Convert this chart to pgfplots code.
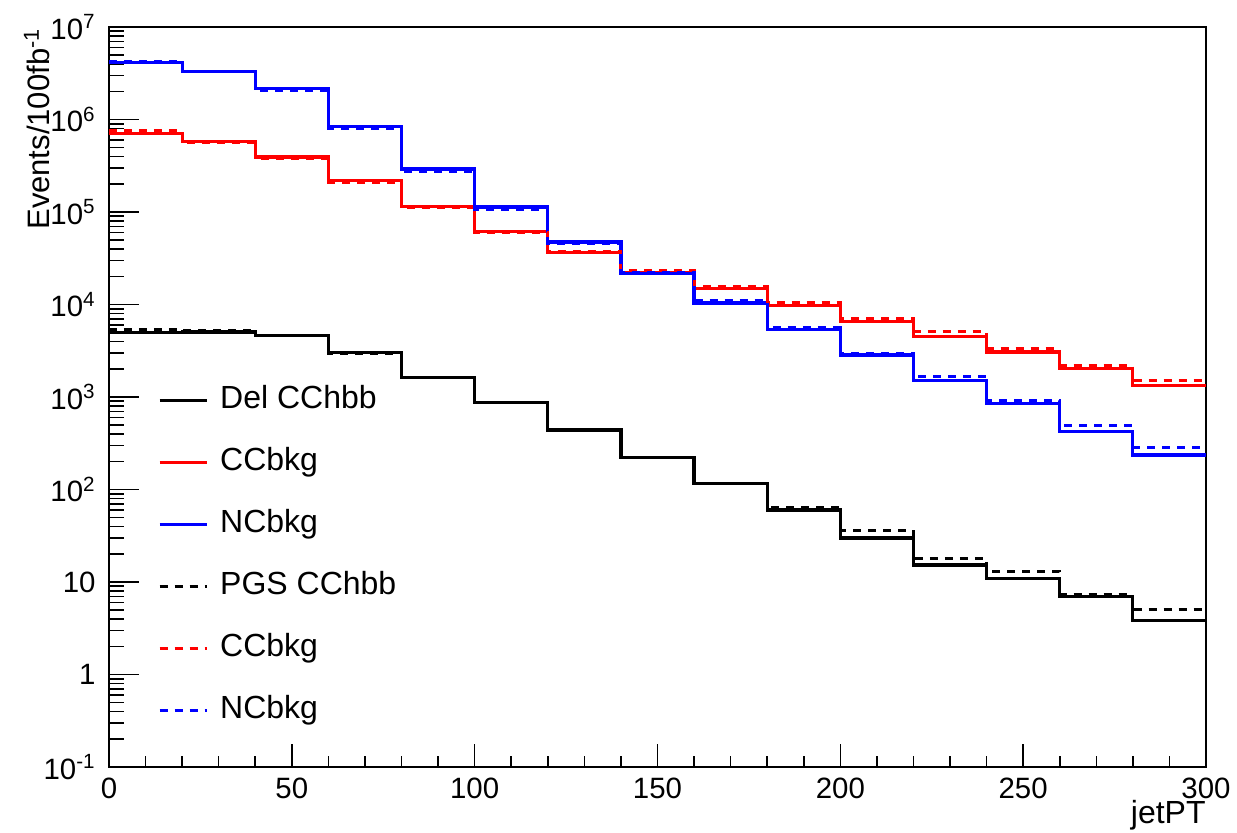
\documentclass[border=0pt]{standalone}
\usepackage{fontspec}
\setmainfont{Liberation Sans}
\usepackage{pgfplots}
\usepackage{pgfplotstable}
\pgfplotsset{compat=1.18}

\pgfplotstableread{
x   delsig  ccsolid  ncsolid  pgssig  ccdash  ncdash
0   4940    700000   4100000  5370    760000  4270000
20  5050    575000   3330000  5300    570000   3300000
40  4660    393000   2180000  4600    380000   2060000
60  3000    220000   840000   2950    210000   790000
80  1630    115000   292000   1620    112000   277000
100 880     61000    113000   870     60000    107000
120 440     36400    47400    440     37000    46000
140 221     22300    21800    221     23400    22000
160 115     14900    10400    115     15800    11000
180 60      9660     5400     64.7    10400    5650
200 29.9    6550     2840     36.5    7060     2930
220 15.3    4550     1500     17.9    5060     1650
240 11.0    3070     853      13.1    3320     912
260 6.95    2020     421      7.25    2170     489
280 3.86    1330     236      5.0     1490     283
300 3.86    1330     236      5.0     1490     283
}\datatable

\begin{document}
\begin{tikzpicture}
\useasboundingbox (-54.5pt,-32.5pt) rectangle (564pt,383.5pt);
\begin{axis}[
  at={(0,0)}, anchor=south west,
  scale only axis, width=548.5pt, height=370pt,
  xmin=0, xmax=300, ymode=log, ymin=0.1, ymax=1e7,
  xtick={0,50,100,150,200,250,300},
  xticklabels={0,50,100,150,200,250,300},
  minor x tick num=4,
  ytick={0.1,1,10,100,1000,10000,100000,1000000,10000000},
  yticklabels={10\textsuperscript{-1},1,10,10\textsuperscript{2},10\textsuperscript{3},10\textsuperscript{4},10\textsuperscript{5},10\textsuperscript{6},10\textsuperscript{7}},
  minor ytick={0.2,0.3,0.4,0.5,0.6,0.7,0.8,0.9,
    2,3,4,5,6,7,8,9,20,30,40,50,60,70,80,90,
    200,300,400,500,600,700,800,900,
    2000,3000,4000,5000,6000,7000,8000,9000,
    20000,30000,40000,50000,60000,70000,80000,90000,
    200000,300000,400000,500000,600000,700000,800000,900000,
    2000000,3000000,4000000,5000000,6000000,7000000,8000000,9000000},
  tick pos=left, tick align=inside,
  major tick length=11.5pt, minor tick length=5.5pt,
  every major y tick/.append style={/pgfplots/major tick length=15pt},
  every minor y tick/.append style={/pgfplots/minor tick length=7.5pt},
  axis line style={line width=1pt},
  every tick/.append style={black, line width=0.8pt},
  ticklabel style={font=\fontsize{14.7}{16}\selectfont},
  xticklabel style={inner sep=0pt, yshift=-5.5pt},
  yticklabel style={inner sep=0pt, xshift=-6.5pt},
  legend style={at={(axis description cs:0.0447,0.5155)}, anchor=north west,
    draw=none, fill=none, inner sep=0pt, outer sep=0pt,
    row sep=16pt, column sep=6pt,
    font=\fontsize{16}{18}\selectfont,
    nodes={inner sep=0pt, text height=11.5pt, text depth=3.5pt}},
  legend cell align=left,
  legend image code/.code={\draw[#1] (0pt,0pt) -- (23.5pt,0pt);},
]
\addplot[const plot, black, line width=1.6pt] table[x=x, y=delsig] {\datatable};
\addlegendentry{Del CChbb}
\addplot[const plot, red, line width=1.6pt] table[x=x, y=ccsolid] {\datatable};
\addlegendentry{CCbkg}
\addplot[const plot, blue, line width=1.6pt] table[x=x, y=ncsolid] {\datatable};
\addlegendentry{NCbkg}
\addplot[const plot, black, line width=1.5pt, dash pattern=on 4pt off 3.5pt] table[x=x, y=pgssig] {\datatable};
\addlegendentry{PGS CChbb}
\addplot[const plot, red, line width=1.5pt, dash pattern=on 4pt off 3.5pt] table[x=x, y=ccdash] {\datatable};
\addlegendentry{CCbkg}
\addplot[const plot, blue, line width=1.5pt, dash pattern=on 4pt off 3.5pt] table[x=x, y=ncdash] {\datatable};
\addlegendentry{NCbkg}
\end{axis}
\node[rotate=90, anchor=south east, inner sep=0pt, font=\fontsize{15.5}{18}\selectfont] at (-29.5pt,369.5pt) {Events/100fb\textsuperscript{-1}};
\node[anchor=base east, inner sep=0pt, font=\fontsize{16}{18}\selectfont] at (548.5pt,-28.25pt) {jetPT};
\end{tikzpicture}
\end{document}
